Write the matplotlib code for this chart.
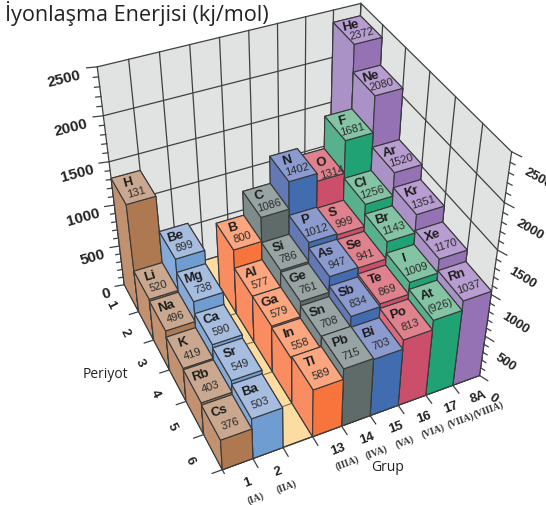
import matplotlib

matplotlib.use("Agg")

import matplotlib.pyplot as plt
from mpl_toolkits.mplot3d.art3d import Poly3DCollection

periods = ["1", "2", "3", "4", "5", "6"]
groups = ["1", "2", "13", "14", "15", "16", "17", "8A"]
group_names = ["(IA)", "(IIA)", "(IIIA)", "(IVA)", "(VA)", "(VIA)", "(VIIA)", "(VIIIA)"]
group_slots = [0, 1, 3, 4, 5, 6, 7, 8]  # slot 2 stays empty, the floor shows there

symbols = [
    ["H", None, None, None, None, None, None, "He"],
    ["Li", "Be", "B", "C", "N", "O", "F", "Ne"],
    ["Na", "Mg", "Al", "Si", "P", "S", "Cl", "Ar"],
    ["K", "Ca", "Ga", "Ge", "As", "Se", "Br", "Kr"],
    ["Rb", "Sr", "In", "Sn", "Sb", "Te", "I", "Xe"],
    ["Cs", "Ba", "Tl", "Pb", "Bi", "Po", "At", "Rn"],
]
energies = [
    [1312, None, None, None, None, None, None, 2372],
    [520, 899, 800, 1086, 1402, 1314, 1681, 2080],
    [496, 738, 577, 786, 1012, 999, 1256, 1520],
    [419, 590, 579, 761, 947, 941, 1143, 1351],
    [403, 549, 558, 708, 834, 869, 1009, 1170],
    [376, 503, 589, 715, 703, 813, 926, 1037],
]
# printed numbers that differ from the bar height
printed = {"H": "131", "At": "(926)"}

# top, left side, front side
group_colors = [
    ("#c9a88f", "#c2916f", "#ae7850"),
    ("#a7bde0", "#85aad9", "#6f9dd1"),
    ("#fba67f", "#f98c60", "#f8743d"),
    ("#98a4a3", "#7f8b8b", "#5e6b69"),
    ("#8c9bcf", "#6379b6", "#416db0"),
    ("#e0828e", "#e0687c", "#cb4f6b"),
    ("#84c4a4", "#58b18c", "#20a275"),
    ("#b89dd0", "#ab92c6", "#9472b4"),
]
edge = "#37393a"
wall = "#e1e3e2"
floor = "#fddca1"

# Text3D takes its angle from zdir, not from rotation
along_group = (1, 0, 0)
along_period = (0, -1, 0)
right_axis_dir = (0.25, -0.5, 0)

fig = plt.figure(figsize=(5.46, 5.06), dpi=100)
ax = fig.add_axes([46.86 / 546, 30.93 / 506, 482.6 / 546, 482.6 / 506], projection="3d")
ax.computed_zorder = False
ax.set_axis_off()
ax.patch.set_visible(False)
ax.set_xlim(0, 9)
ax.set_ylim(0, 6)
ax.set_zlim(0, 2500)
ax.view_init(40.103, -115.1227)
ax.set_proj_type("persp", focal_length=0.4626)
ax.set_box_aspect((1.0005, 0.9986, 1))

# walls and floor
ax.add_collection3d(Poly3DCollection([[(0, 6, 0), (9, 6, 0), (9, 6, 2500), (0, 6, 2500)]],
                                     facecolor=wall, edgecolor="none", zorder=1))
ax.add_collection3d(Poly3DCollection([[(9, 0, 0), (9, 6, 0), (9, 6, 2500), (9, 0, 2500)]],
                                     facecolor=wall, edgecolor="none", zorder=1))
ax.add_collection3d(Poly3DCollection([[(0, 0, 0), (9, 0, 0), (9, 6, 0), (0, 6, 0)]],
                                     facecolor=floor, edgecolor="none", zorder=1))

grid = dict(color="#3f4142", linewidth=0.9, zorder=2)
for x in range(10):
    ax.plot([x, x], [6, 6], [0, 2500], **grid)
for y in range(7):
    ax.plot([9, 9], [y, y], [0, 2500], **grid)
    ax.plot([0, 9], [y, y], [0, 0], color="#8a6f45", linewidth=0.8, zorder=2)
for z in range(0, 2501, 500):
    ax.plot([0, 9, 9], [6, 6, 0], [z, z, z], **grid)
ax.plot([0, 9], [0, 0], [0, 0], color=edge, linewidth=1.0, zorder=2)

# bars, back to front so the near ones cover the far ones
order = 10
for row in range(6):
    y = 5 - row
    for col in range(7, -1, -1):
        if symbols[row][col] is None:
            continue
        x = group_slots[col]
        top, left, front = group_colors[col]
        ax.bar3d(x, y, 0, 1, 1, energies[row][col], color=[top, top, front, front, left, left],
                 shade=False, edgecolor=edge, linewidth=0.8, zorder=order)
        sym = symbols[row][col]
        z = energies[row][col]
        # O sits partly behind N and Cl, its label moves clear and stays on top
        dx, dy = (0.17, -0.15) if sym == "O" else (0, 0)
        text_order = 800 if sym == "O" else order + 0.5
        ax.text(x + 0.42 + dx, y + 0.73 + dy, z, sym, zdir=along_group, fontsize=9.5, fontweight="bold",
                family="Liberation Sans", color="#1c1c1c", ha="center", va="center",
                rotation_mode="anchor", zorder=text_order)
        ax.text(x + 0.51 + dx, y + 0.33 + dy, z, printed.get(sym, str(z)), zdir=along_group, fontsize=8,
                family="Liberation Sans", color="#2b2b2b", ha="center", va="center",
                rotation_mode="anchor", zorder=text_order)
        order += 1

# ticks
tick = dict(color="#3f4142", linewidth=0.9, zorder=900)
for z in range(0, 2501, 100):
    n = 1.0 if z % 500 == 0 else 0.5
    ax.plot([0, -0.33 * n], [6, 6], [z, z + 15 * n], **tick)
    ax.plot([9, 9 + 0.121 * n], [0, -0.207 * n], [z, z], **tick)
for slot in range(9):
    ax.plot([slot, slot], [0, -0.25], [0, 0], **tick)
for y in range(6):
    ax.plot([0, -0.33], [y, y], [0, 0], **tick)

label = dict(family="Liberation Sans", fontweight="bold", color="#222222", rotation_mode="anchor", zorder=950)
for z in range(0, 2501, 500):
    ax.text(-0.53, 6, z - 30, str(z), zdir=along_group, fontsize=11, ha="right", va="center", **label)
    ax.text(8.846, -0.582, z, str(z), zdir=right_axis_dir, fontsize=9.5, ha="left", va="center", **label)
for i, name in enumerate(periods):
    ax.text(-0.75, 5.5 - i, 0, name, zdir=along_period, fontsize=9.5, ha="center", va="center", **label)
for i, name in enumerate(groups):
    x = group_slots[i] + 0.5
    ax.text(x, -0.5, 0, name, zdir=along_group, fontsize=9.5, ha="center", va="center", **label)
    ax.text(x, -0.9, 0, group_names[i], zdir=along_group, fontsize=7, family="Liberation Serif",
            fontweight="bold", color="#333333", ha="center", va="center", rotation_mode="anchor", zorder=950)

fig.text(5 / 546, 1 - 14 / 506, "İyonlaşma Enerjisi (kj/mol)", fontsize=15.6, family="Open Sans",
         color="#222222", ha="left", va="center")
fig.text(105 / 546, 1 - 375 / 506, "Periyot", fontsize=10, family="Open Sans", color="#222222",
         ha="center", va="center")
fig.text(388 / 546, 1 - 468 / 506, "Grup", fontsize=10, family="Open Sans", color="#222222",
         ha="center", va="center")

fig.savefig("out.png", dpi=100)
